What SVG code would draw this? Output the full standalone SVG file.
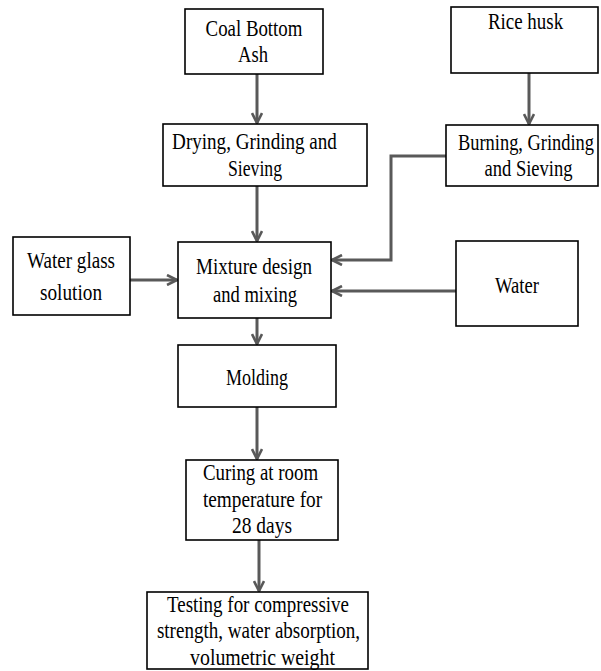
<svg xmlns="http://www.w3.org/2000/svg" width="601" height="671" viewBox="0 0 601 671">
<style>
.box{fill:#fff;stroke:#000;stroke-width:1.6}
.t{font-family:'Liberation Serif','Times New Roman',serif;font-size:24px;fill:#000;text-anchor:middle}
.c{fill:none;stroke:#595959;stroke-width:3}
</style>
<defs>
<marker id="ah" viewBox="0 0 12 12" refX="11" refY="6" markerWidth="12" markerHeight="12" markerUnits="userSpaceOnUse" orient="auto">
<path d="M1,1 L11,6 L1,11" fill="none" stroke="#595959" stroke-width="2.6"/>
</marker>
</defs>
<rect width="601" height="671" fill="#fff"/>
<g id="connectors">
<path class="c" d="M257,74 V123" marker-end="url(#ah)"/>
<path class="c" d="M529,73 V124" marker-end="url(#ah)"/>
<path class="c" d="M257,186 V241" marker-end="url(#ah)"/>
<path class="c" d="M446,156 H391 V260 H332" marker-end="url(#ah)"/>
<path class="c" d="M130,280 H177" marker-end="url(#ah)"/>
<path class="c" d="M456,291 H332" marker-end="url(#ah)"/>
<path class="c" d="M257,318 V344" marker-end="url(#ah)"/>
<path class="c" d="M257,407 V459" marker-end="url(#ah)"/>
<path class="c" d="M259,540 V591" marker-end="url(#ah)"/>
</g>
<g id="coal">
<rect class="box" x="185" y="9" width="138" height="65"/>
<text class="t" transform="translate(254,36) scale(0.8,1)" textLength="121" lengthAdjust="spacingAndGlyphs">Coal Bottom</text>
<text class="t" transform="translate(253,62) scale(0.8,1)" textLength="37.5" lengthAdjust="spacingAndGlyphs">Ash</text>
</g>
<g id="rice">
<rect class="box" x="451" y="7" width="147" height="66"/>
<text class="t" transform="translate(525.5,29) scale(0.8,1)" textLength="94" lengthAdjust="spacingAndGlyphs">Rice husk</text>
</g>
<g id="drying">
<rect class="box" x="163" y="124" width="204" height="62"/>
<text class="t" transform="translate(254.5,149) scale(0.8,1)" textLength="206" lengthAdjust="spacingAndGlyphs">Drying, Grinding  and</text>
<text class="t" transform="translate(255,176) scale(0.8,1)" textLength="67.5" lengthAdjust="spacingAndGlyphs">Sieving</text>
</g>
<g id="burning">
<rect class="box" x="446" y="125" width="152" height="61"/>
<text class="t" transform="translate(526,150) scale(0.8,1)" textLength="170" lengthAdjust="spacingAndGlyphs">Burning, Grinding</text>
<text class="t" transform="translate(528.5,176) scale(0.8,1)" textLength="110" lengthAdjust="spacingAndGlyphs">and Sieving</text>
</g>
<g id="waterglass">
<rect class="box" x="13" y="237" width="117" height="78"/>
<text class="t" transform="translate(71,268) scale(0.8,1)" textLength="110" lengthAdjust="spacingAndGlyphs">Water glass</text>
<text class="t" transform="translate(71,300) scale(0.8,1)" textLength="77.5" lengthAdjust="spacingAndGlyphs">solution</text>
</g>
<g id="mixture">
<rect class="box" x="178" y="242" width="153" height="76"/>
<text class="t" transform="translate(254,274) scale(0.8,1)" textLength="145" lengthAdjust="spacingAndGlyphs">Mixture design</text>
<text class="t" transform="translate(255,302) scale(0.8,1)" textLength="105" lengthAdjust="spacingAndGlyphs">and mixing</text>
</g>
<g id="water">
<rect class="box" x="456" y="241" width="122" height="85"/>
<text class="t" transform="translate(517,293) scale(0.8,1)" textLength="55" lengthAdjust="spacingAndGlyphs">Water</text>
</g>
<g id="molding">
<rect class="box" x="178" y="345" width="158" height="62"/>
<text class="t" transform="translate(257,385) scale(0.8,1)" textLength="77.5" lengthAdjust="spacingAndGlyphs">Molding</text>
</g>
<g id="curing">
<rect class="box" x="186" y="460" width="152" height="80"/>
<text class="t" transform="translate(260.5,480) scale(0.8,1)" textLength="144" lengthAdjust="spacingAndGlyphs">Curing  at room</text>
<text class="t" transform="translate(262.5,507) scale(0.8,1)" textLength="149" lengthAdjust="spacingAndGlyphs">temperature  for</text>
<text class="t" transform="translate(262,533) scale(0.8,1)" textLength="75" lengthAdjust="spacingAndGlyphs">28 days</text>
</g>
<g id="testing">
<rect class="box" x="147" y="592" width="221" height="77"/>
<text class="t" transform="translate(258,612) scale(0.8,1)" textLength="227.5" lengthAdjust="spacingAndGlyphs">Testing  for compressive</text>
<text class="t" transform="translate(258.5,638) scale(0.8,1)" textLength="254" lengthAdjust="spacingAndGlyphs">strength, water absorption,</text>
<text class="t" transform="translate(262.5,665) scale(0.8,1)" textLength="181" lengthAdjust="spacingAndGlyphs">volumetric weight</text>
</g>
</svg>
